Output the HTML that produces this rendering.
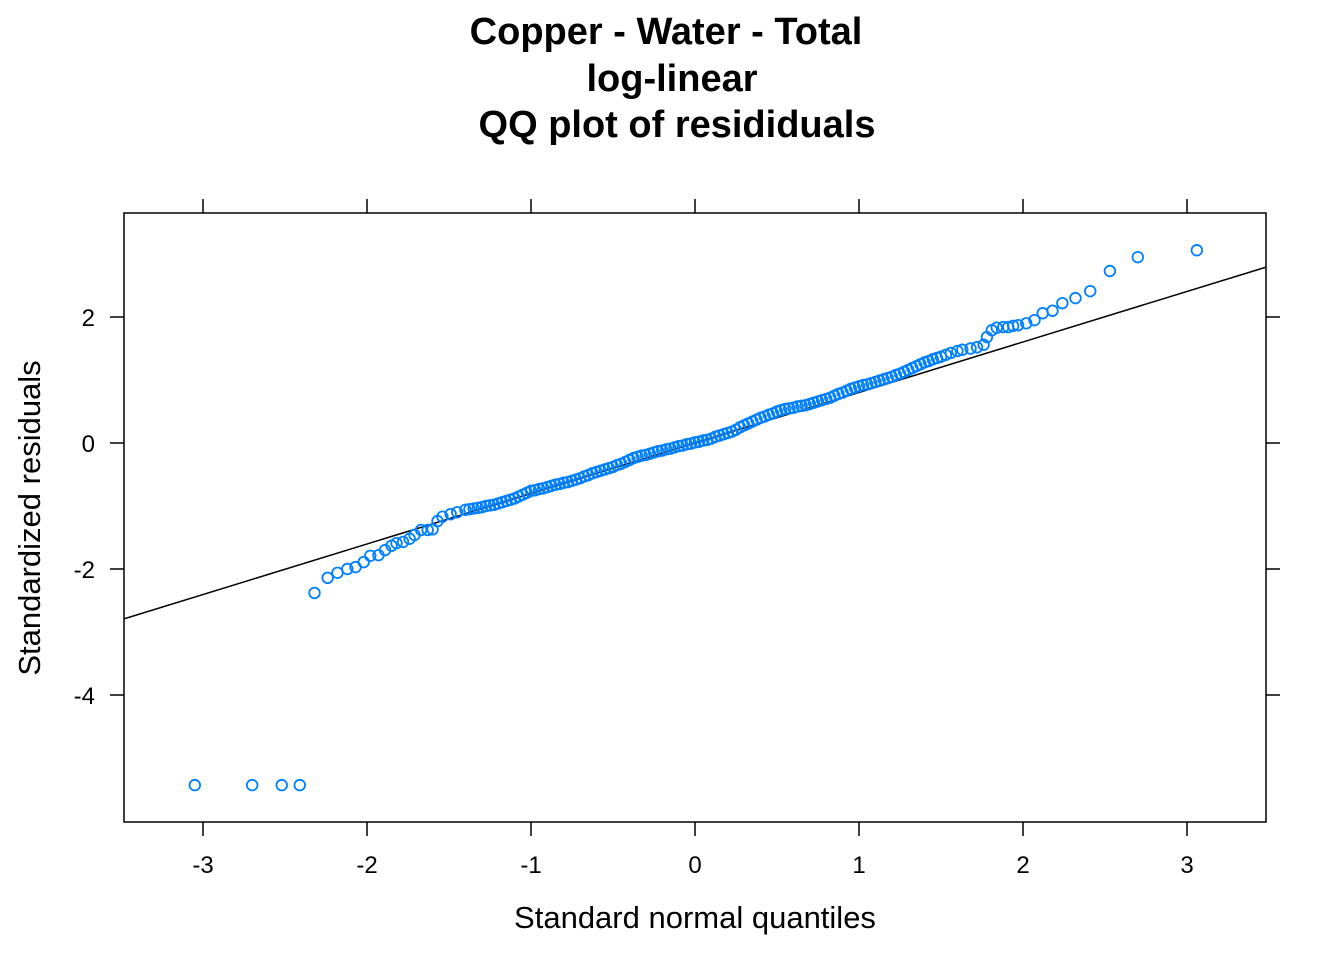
<!DOCTYPE html>
<html><head><meta charset="utf-8"><style>
html,body{margin:0;padding:0;background:#fff;}
svg{display:block;font-family:"Liberation Sans",Arial,sans-serif;}
</style></head><body>
<svg id="chart" width="1344" height="960">
<g font-weight="bold" font-size="38" text-anchor="middle">
<text x="666" y="44">Copper - Water - Total</text>
<text x="672" y="91">log-linear</text>
<text x="677" y="137">QQ plot of resididuals</text>
</g>
<rect x="124" y="213" width="1142" height="609" fill="none" stroke="#000" stroke-width="1.5"/>
<g id="axes"></g>
<g id="marks"></g>
<text x="695" y="928" font-size="31" text-anchor="middle">Standard normal quantiles</text>
<text transform="translate(40,518) rotate(-90)" font-size="31" text-anchor="middle">Standardized residuals</text>
</svg>
<script>
const xTicks=[-3,-2,-1,0,1,2,3];
const yTicks=[-4,-2,0,2];
const lineEnds=[[-3.48,-2.79],[3.48,2.79]];
const quantiles=[-3.05,-2.70,-2.52,-2.41,-2.32,-2.24,-2.18,-2.12,-2.07,-2.02,-1.98,-1.93,-1.89,-1.85,-1.82,-1.78,-1.74,-1.71,-1.67,-1.63,-1.60,-1.57,-1.54,-1.49,-1.45,-1.40,
-1.375,-1.35,-1.325,-1.30,-1.275,-1.25,-1.225,-1.20,-1.175,-1.15,-1.125,-1.10,-1.075,-1.05,-1.025,-1.00,-0.975,-0.95,-0.925,-0.90,-0.875,-0.85,-0.825,-0.80,-0.775,-0.75,-0.725,-0.70,-0.675,-0.65,-0.625,-0.60,-0.575,-0.55,-0.525,-0.50,-0.475,-0.45,-0.425,-0.40,-0.375,-0.35,-0.325,-0.30,-0.275,-0.25,-0.225,-0.20,-0.175,-0.15,-0.125,-0.10,-0.075,-0.05,-0.025,0.00,0.025,0.05,0.075,0.10,0.125,0.15,0.175,0.20,0.225,0.25,0.275,0.30,0.325,0.35,0.375,0.40,0.425,0.45,0.475,0.50,0.525,0.55,0.575,0.60,0.625,0.65,0.675,0.70,0.725,0.75,0.775,0.80,0.825,0.85,0.875,0.90,0.925,0.95,0.975,1.00,1.025,1.05,1.075,1.10,1.125,1.15,1.175,1.20,1.225,1.25,1.275,1.30,1.325,1.35,1.375,1.40,1.425,1.45,1.475,
1.50,1.53,1.56,1.60,1.63,1.68,1.72,1.76,1.78,1.81,1.84,1.88,1.91,1.94,1.97,2.02,2.07,2.12,2.18,2.24,2.32,2.41,2.53,2.70,3.06];
const residuals=[-5.43,-5.43,-5.43,-5.43,-2.38,-2.14,-2.06,-2.0,-1.97,-1.89,-1.79,-1.78,-1.70,-1.63,-1.59,-1.57,-1.52,-1.46,-1.38,-1.38,-1.37,-1.24,-1.17,-1.13,-1.10,-1.06,
-1.05,-1.04,-1.03,-1.02,-1.00,-0.99,-0.98,-0.96,-0.94,-0.92,-0.90,-0.88,-0.85,-0.82,-0.79,-0.76,-0.75,-0.73,-0.72,-0.70,-0.68,-0.66,-0.65,-0.63,-0.62,-0.60,-0.58,-0.56,-0.53,-0.51,-0.48,-0.46,-0.44,-0.42,-0.40,-0.38,-0.35,-0.33,-0.30,-0.27,-0.24,-0.22,-0.20,-0.19,-0.17,-0.15,-0.13,-0.12,-0.10,-0.09,-0.07,-0.05,-0.04,-0.02,-0.01,0.01,0.02,0.04,0.05,0.07,0.10,0.12,0.14,0.16,0.18,0.21,0.25,0.28,0.31,0.34,0.37,0.40,0.42,0.45,0.47,0.50,0.52,0.54,0.55,0.56,0.58,0.59,0.60,0.62,0.64,0.66,0.68,0.70,0.72,0.75,0.78,0.80,0.83,0.86,0.88,0.90,0.92,0.93,0.95,0.97,0.99,1.01,1.03,1.05,1.08,1.10,1.13,1.16,1.19,1.22,1.25,1.28,1.30,1.33,1.35,
1.37,1.40,1.43,1.46,1.48,1.50,1.52,1.56,1.68,1.79,1.83,1.84,1.84,1.86,1.87,1.90,1.95,2.06,2.10,2.22,2.30,2.41,2.73,2.95,3.06];
const NS="http://www.w3.org/2000/svg";
const sx=v=>695+164*v, sy=v=>443-63*v;
const axes=document.getElementById('axes'), marks=document.getElementById('marks');
function mk(tag,attrs,parent){const e=document.createElementNS(NS,tag);for(const k in attrs)e.setAttribute(k,attrs[k]);parent.appendChild(e);return e;}
xTicks.forEach(t=>{
  const b=mk('line',{x1:sx(t),x2:sx(t),y1:822,y2:836,stroke:'#000','stroke-width':1.5},axes);
  
  
  const tp=mk('line',{x1:sx(t),x2:sx(t),y1:199,y2:213,stroke:'#000','stroke-width':1.5},axes);
  
  
  const l=mk('text',{x:sx(t),y:873,'font-size':24,'text-anchor':'middle'},axes);
  l.textContent=String(t);
  
  
});
yTicks.forEach(t=>{
  const a=mk('line',{x1:110,x2:124,y1:sy(t),y2:sy(t),stroke:'#000','stroke-width':1.5},axes);
  
  
  const b=mk('line',{x1:1266,x2:1280,y1:sy(t),y2:sy(t),stroke:'#000','stroke-width':1.5},axes);
  
  
  const l=mk('text',{x:95,y:sy(t)+9,'font-size':24,'text-anchor':'end'},axes);
  l.textContent=String(t);
  
  
});
const ln=mk('line',{x1:sx(lineEnds[0][0]),y1:sy(lineEnds[0][1]),x2:sx(lineEnds[1][0]),y2:sy(lineEnds[1][1]),stroke:'#000','stroke-width':1.5},marks);


quantiles.forEach((q,i)=>{
  const c=mk('circle',{cx:sx(q),cy:sy(residuals[i]),r:5.3,fill:'none',stroke:'#0080ff','stroke-width':1.8},marks);
  
  
});
</script>
</body></html>
